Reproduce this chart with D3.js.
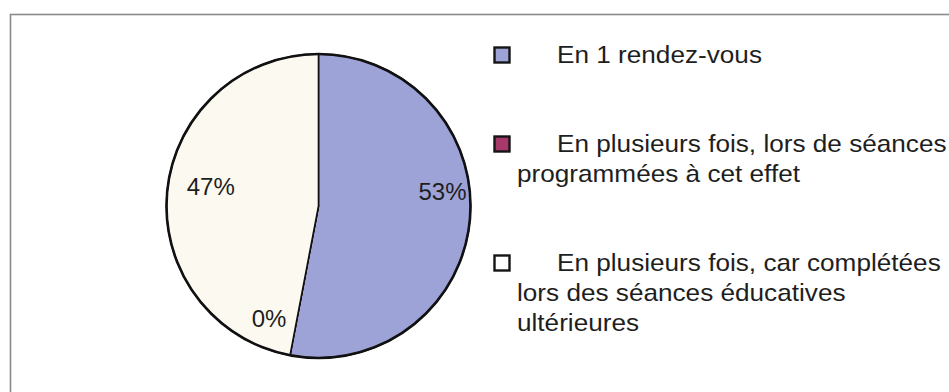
<!DOCTYPE html>
<html>
<head>
<meta charset="utf-8">
<script src="https://cdn.jsdelivr.net/npm/d3@7/dist/d3.min.js"></script>
<style>
  html, body { margin: 0; padding: 0; background: #fff; }
  svg { display: block; }
  text { font-family: "Liberation Sans", Arial, Helvetica, sans-serif; fill: #1e1e1e; }
</style>
</head>
<body>
<svg id="chart" width="949" height="392"></svg>
<script>
// Répartition des modes de réalisation
const categories = [
  "En 1 rendez-vous",
  "En plusieurs fois, lors de séances programmées à cet effet",
  "En plusieurs fois, car complétées lors des séances éducatives ultérieures"
];
const values = [53, 0, 47];
const valueLabels = ["53%", "0%", "47%"];
// Legend text, split as it wraps in the legend box
const legendLines = [
  ["En 1 rendez-vous"],
  ["En plusieurs fois, lors de séances", "programmées à cet effet"],
  ["En plusieurs fois, car complétées", "lors des séances éducatives", "ultérieures"]
];
const colors = ["#9ea3d7", "#a8386a", "#fcfaf0"];

const svg = d3.select("#chart");

// Chart area frame (runs off the right and bottom edges)
svg.append("rect")
  .attr("x", 10.5).attr("y", 14.5)
  .attr("width", 1000).attr("height", 500)
  .attr("fill", "none")
  .attr("stroke", "#8a8a8a")
  .attr("stroke-width", 1.6);

// ---- Pie ----
const cx = 318.5, cy = 206, r = 152;
const pie = d3.pie().sort(null).value(d => d)(values);
const arc = d3.arc().innerRadius(0).outerRadius(r);

const g = svg.append("g").attr("transform", `translate(${cx},${cy})`);

g.selectAll("path.slice")
  .data(pie)
  .join("path")
  .attr("class", "slice")
  .attr("d", arc)
  .attr("fill", (d, i) => colors[i])
  .attr("stroke", "#111")
  .attr("stroke-width", 1.6)
  .attr("stroke-linejoin", "round");

// outer rim
g.append("circle")
  .attr("r", r)
  .attr("fill", "none")
  .attr("stroke", "#111")
  .attr("stroke-width", 2.6);

// data labels: angle along the slice, radius factor and nudges
const labelPlacement = [
  { t: 0.5, k: 0.985, anchor: "end", dx: -1, dy: -20 },
  { t: 0, off: 0.2, k: 0.80, anchor: "end", dx: 14, dy: 8 },
  { t: 0.5, off: 0.08, k: 0.72, anchor: "middle", dx: 0, dy: 8 }
];
const labelAngle = (d, i) => {
  const p = labelPlacement[i];
  return d.startAngle + (d.endAngle - d.startAngle) * p.t + (p.off || 0);
};
g.selectAll("text.val")
  .data(pie)
  .join("text")
  .attr("class", "val")
  .attr("font-size", 24)
  .attr("text-anchor", (d, i) => labelPlacement[i].anchor)
  .attr("x", (d, i) => Math.sin(labelAngle(d, i)) * r * labelPlacement[i].k + labelPlacement[i].dx)
  .attr("y", (d, i) => -Math.cos(labelAngle(d, i)) * r * labelPlacement[i].k + labelPlacement[i].dy)
  .text((d, i) => valueLabels[i]);

// ---- Legend ----
const legendTop = [47, 136, 255];
const legend = svg.append("g");
categories.forEach((c, i) => {
  const y0 = legendTop[i];
  legend.append("rect")
    .attr("x", 494.5).attr("y", y0 + 0.5)
    .attr("width", 15).attr("height", 15)
    .attr("fill", colors[i] === "#fcfaf0" ? "#ffffff" : colors[i])
    .attr("stroke", "#151515")
    .attr("stroke-width", 2.4);
  legendLines[i].forEach((line, j) => {
    const x = j === 0 ? 557 : 517;
    const y = y0 + 16 + j * 30;
    legend.append("text")
      .attr("transform", `translate(${x},${y}) scale(1.09,1)`)
      .attr("font-size", 24)
      .text(line);
  });
});
</script>
</body>
</html>
